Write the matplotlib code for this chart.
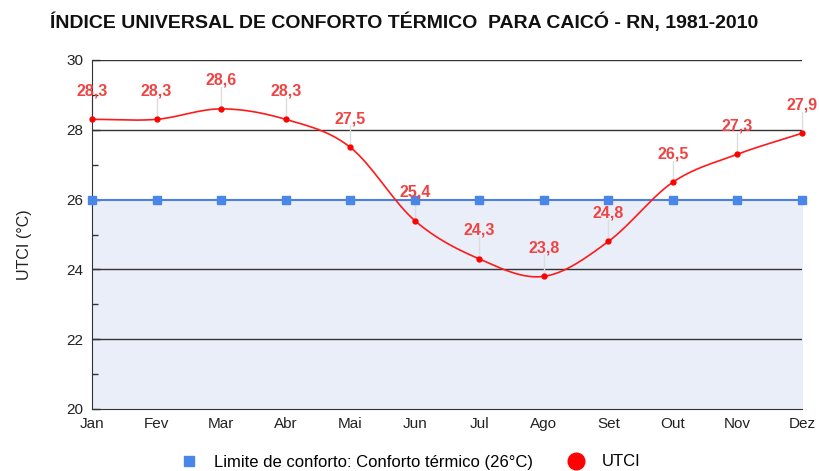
import numpy as np
import matplotlib
matplotlib.use("Agg")
import matplotlib.pyplot as plt
from matplotlib.lines import Line2D

months = ["Jan", "Fev", "Mar", "Abr", "Mai", "Jun", "Jul", "Ago", "Set", "Out", "Nov", "Dez"]
utci = [28.3, 28.3, 28.6, 28.3, 27.5, 25.4, 24.3, 23.8, 24.8, 26.5, 27.3, 27.9]
limite = [26, 26, 26, 26, 26, 26, 26, 26, 26, 26, 26, 26]
yticks = [20, 22, 24, 26, 28, 30]

plt.rcParams['font.family'] = ['Liberation Sans', 'DejaVu Sans']

fig = plt.figure(figsize=(8.19, 4.71), dpi=100)
ax = fig.add_axes([92/819, 1-409/471, 710/819, 349/471])

x = np.arange(len(months))
y = np.array(utci, dtype=float)

# Catmull-Rom style smooth curve through points
def smooth(xs, ys, n=30):
    px, py = [], []
    N = len(xs)
    for i in range(N - 1):
        x0, x1 = xs[i], xs[i+1]
        y0, y1 = ys[i], ys[i+1]
        m0 = (ys[i+1] - ys[i-1]) / 2 if i > 0 else (y1 - y0)
        m1 = (ys[i+2] - ys[i]) / 2 if i + 2 < N else (y1 - y0)
        t = np.linspace(0, 1, n, endpoint=(i == N - 2))
        h00 = 2*t**3 - 3*t**2 + 1
        h10 = t**3 - 2*t**2 + t
        h01 = -2*t**3 + 3*t**2
        h11 = t**3 - t**2
        px.append(x0 + t*(x1 - x0))
        py.append(h00*y0 + h10*m0 + h01*y1 + h11*m1)
    return np.concatenate(px), np.concatenate(py)

sx, sy = smooth(x, y)

ax.fill_between(x, 20, limite, color="#eaeef9", zorder=1)
for g in [22, 24, 28, 30]:
    ax.axhline(g, color="#333333", lw=1.0, zorder=2)
ax.plot(x, limite, color="#4a80e6", lw=1.5, marker="s", ms=5.5, mfc="#4a86e8", mec="#4a86e8", zorder=3, clip_on=False)
ax.plot(sx, sy, color="#ff1a1a", lw=1.2, zorder=4, clip_on=False)
ax.plot(x, y, ls="none", marker="o", ms=3.5, color="#ff0000", zorder=5, clip_on=False)

for xi, yi in zip(x, y):
    ax.plot([xi, xi], [yi, yi + 0.62], color="#dddddd", lw=1, zorder=2.5, clip_on=False)
    ax.text(xi, yi + 0.6, f"{yi:.1f}".replace(".", ","), ha="center", va="bottom",
            color="#ef4444", fontsize=11.5, fontweight="bold", zorder=6, clip_on=False)

ax.set_xlim(0, 11)
ax.set_ylim(20, 30)
ax.set_xticks(x)
ax.set_xticklabels(months, fontsize=11, color="#222222")
ax.set_yticks(yticks)
ax.set_yticklabels([str(v) for v in yticks], fontsize=11, color="#222222")
ax.set_yticks([21, 23, 25, 27, 29], minor=True)
ax.tick_params(axis='y', which='major', length=6, width=1, color="#333333", direction='in', pad=6)
ax.tick_params(axis='y', which='minor', length=4, width=1, color="#333333", direction='in')
ax.tick_params(axis='x', length=0, pad=6)
for s in ["top", "right"]:
    ax.spines[s].set_visible(False)
ax.spines["left"].set_color("#333333")
ax.spines["bottom"].set_color("#333333")
ax.set_ylabel("UTCI (°C)", fontsize=11.5, color="#222222")
ax.yaxis.set_label_coords(-0.085, 0.47)

fig.text(0.494, 1-22/471, "ÍNDICE UNIVERSAL DE CONFORTO TÉRMICO  PARA CAICÓ - RN, 1981-2010",
         ha="center", va="center", fontsize=14, fontweight="bold", color="#111111")

handles = [Line2D([], [], ls="none", marker="s", ms=7.5, color="#4a86e8"),
           Line2D([], [], ls="none", marker="o", ms=12, color="#ff0000")]
fig.legend(handles, ["Limite de conforto: Conforto térmico (26°C)", "UTCI"],
           loc="center", bbox_to_anchor=(0.496, 1-462/471), ncol=2, frameon=False,
           fontsize=12, handletextpad=0.5, columnspacing=1.6)

fig.savefig("out.png", dpi=100)
